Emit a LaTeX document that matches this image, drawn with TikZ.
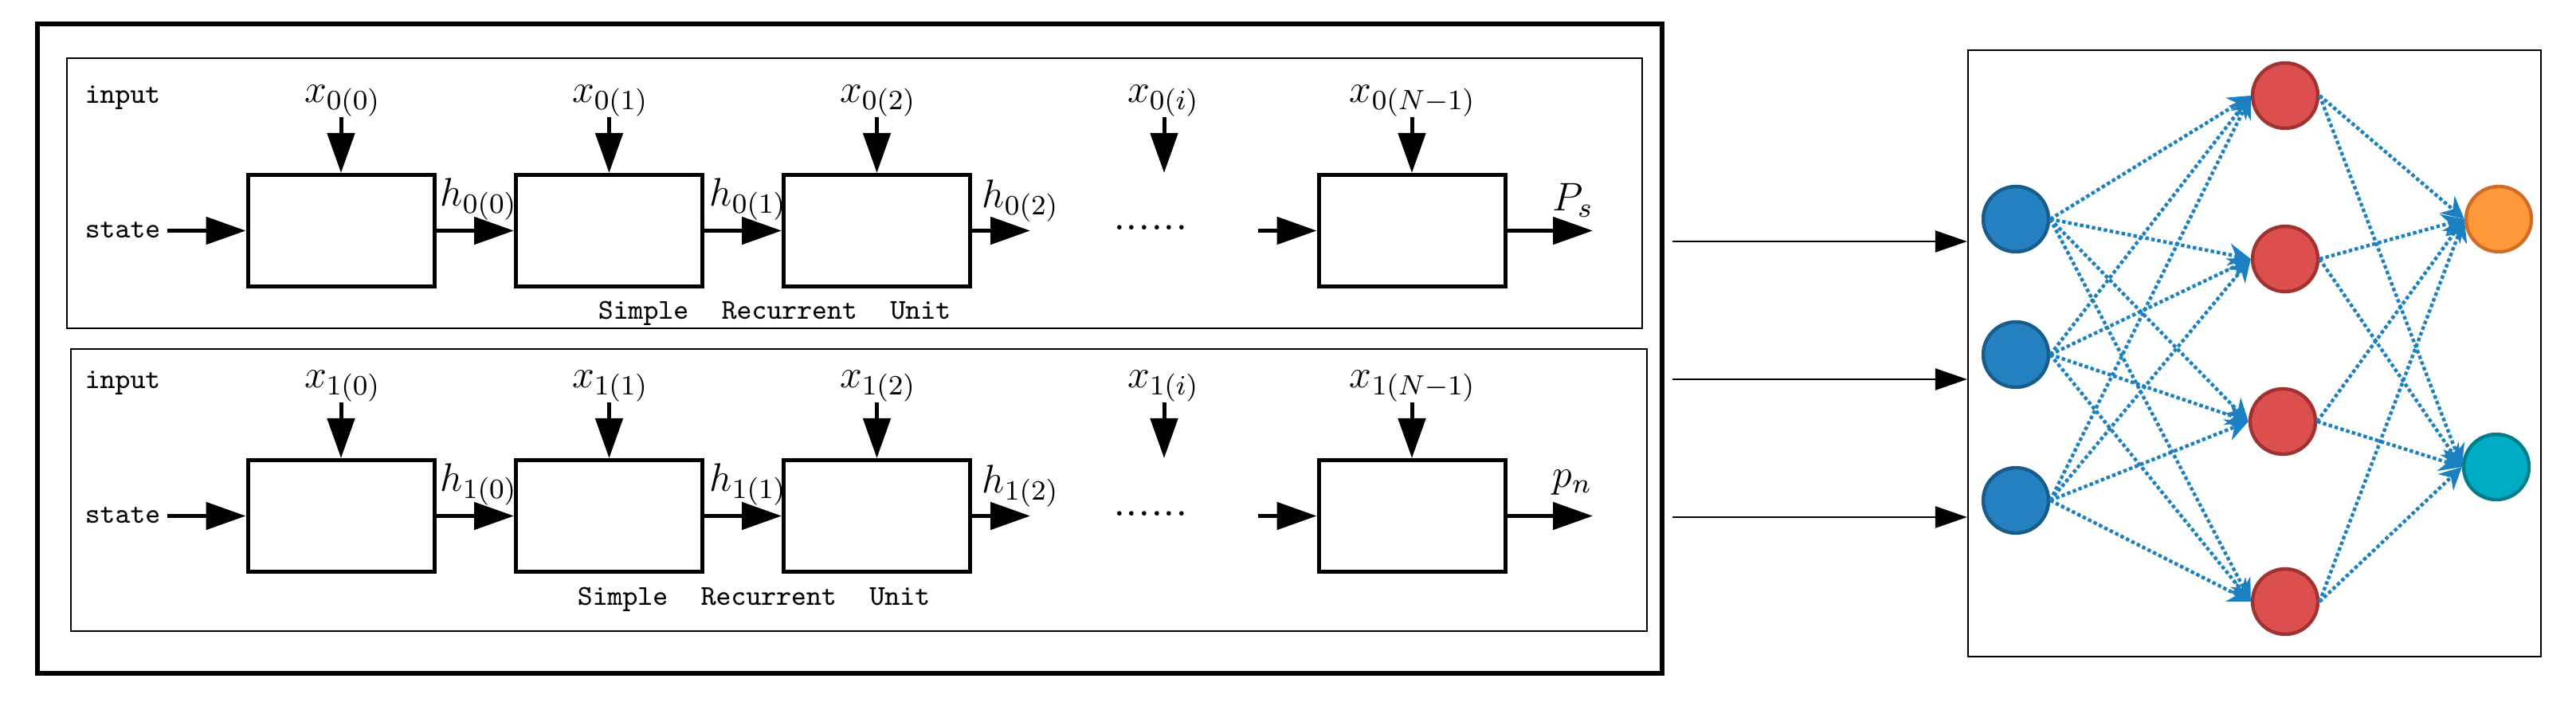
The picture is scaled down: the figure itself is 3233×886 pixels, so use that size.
\RequirePackage{fix-cm}
\documentclass[tikz,border=0pt]{standalone}
\usetikzlibrary{arrows.meta}
\definecolor{inblue}{RGB}{36,128,190}
\definecolor{inblueb}{RGB}{24,92,140}
\definecolor{hidred}{RGB}{219,80,79}
\definecolor{hidredb}{RGB}{160,50,50}
\definecolor{outor}{RGB}{255,152,58}
\definecolor{outorb}{RGB}{207,110,40}
\definecolor{outte}{RGB}{0,172,196}
\definecolor{outteb}{RGB}{0,125,140}
\definecolor{edgeblue}{RGB}{26,128,194}
\tikzset{
  blk/.style={draw, line width=1.25pt, line join=miter, minimum width=58.5pt, minimum height=35pt, inner sep=0pt},
  flow/.style={line width=1.25pt, -{Triangle[length=12.5pt,width=8.5pt]}},
  lbl/.style={inner sep=0pt, font=\fontsize{12.5}{15}\selectfont},
  ttl/.style={inner sep=0pt, font=\fontsize{9}{11}\selectfont\ttfamily},
  nnode/.style={circle, line width=1.1pt, minimum size=20.5pt, inner sep=0pt},
  nnedge/.style={draw=edgeblue, line width=1.1pt, dash pattern=on 1.1pt off 0.8pt, -{Stealth[length=7pt,width=7pt]}},
  link/.style={line width=0.4pt, -{Triangle[length=10pt,width=6.8pt]}}
}
\begin{document}
\begin{tikzpicture}[x=0.25pt,y=-0.25pt]
\useasboundingbox (0,0) rectangle (3233,886);
% outer frame and inner frames
\draw[line width=1.5pt] (47,30) rectangle (2086,845);
\draw[line width=0.6pt] (84,73) rectangle (2061,412);
\draw[line width=0.6pt] (89,438) rectangle (2067,792);
\foreach \r/\dy in {0/0,1/358}{
  \node[ttl, anchor=mid west] (inp\r) at (106,121+\dy) {input};
  \node[ttl, anchor=mid west] (state\r) at (106,290+\dy) {state};
  \node[blk] (ba\r) at (428,289.5+\dy) {};
  \node[blk] (bb\r) at (764.5,289.5+\dy) {};
  \node[blk] (bc\r) at (1100.5,289.5+\dy) {};
  \node[blk] (bd\r) at (1772,289.5+\dy) {};
  % input labels
  \node[lbl, anchor=south] (xa\r) at (430,147+\dy) {$x_{\r(0)}$};
  \node[lbl, anchor=south] (xb\r) at (766,147+\dy) {$x_{\r(1)}$};
  \node[lbl, anchor=south] (xc\r) at (1102,147+\dy) {$x_{\r(2)}$};
  \node[lbl, anchor=south] (xi\r) at (1460,147+\dy) {$x_{\r(i)}$};
  \node[lbl, anchor=south] (xn\r) at (1773,147+\dy) {$x_{\r(N-1)}$};
  \draw[flow] (ba\r.north |- xa\r.south) -- (ba\r.north);
  \draw[flow] (bb\r.north |- xb\r.south) -- (bb\r.north);
  \draw[flow] (bc\r.north |- xc\r.south) -- (bc\r.north);
  \coordinate (di\r) at (1461,217+\dy);
  \draw[flow] (di\r |- xi\r.south) -- (di\r);
  \draw[flow] (bd\r.north |- xn\r.south) -- (bd\r.north);
  % hidden state labels
  \node[lbl, anchor=south west] (ha\r) at (552,277+\dy) {$h_{\r(0)}$};
  \node[lbl, anchor=south west] (hb\r) at (890,277+\dy) {$h_{\r(1)}$};
  \node[lbl, anchor=south west] (hc\r) at (1232,279+\dy) {$h_{\r(2)}$};
  % horizontal flow
  \coordinate (st\r) at (210,289.5+\dy);
  \draw[flow] (st\r) -- (ba\r.west);
  \draw[flow] (ba\r.east) -- (bb\r.west);
  \draw[flow] (bb\r.east) -- (bc\r.west);
  \coordinate (ce\r) at (1293,289.5+\dy);
  \draw[flow] (bc\r.east) -- (ce\r);
  \coordinate (cs\r) at (1579,289.5+\dy);
  \draw[flow] (cs\r) -- (bd\r.west);
  \coordinate (pe\r) at (1999,289.5+\dy);
  \draw[flow] (bd\r.east) -- (pe\r);
  \node[anchor=base, inner sep=0pt, font=\fontsize{14.4}{16}\selectfont] (dots\r) at (1444,289+\dy) {......};
}
\node[ttl, anchor=mid] (sru0) at (972,392) {Simple\hspace{10.4pt}Recurrent\hspace{10.4pt}Unit};
\node[ttl, anchor=mid] (sru1) at (946,751) {Simple\hspace{10.4pt}Recurrent\hspace{10.4pt}Unit};
\node[lbl, anchor=south west] (ps) at (1948,273) {$P_s$};
\node[lbl, anchor=south west] (pn) at (1948,622) {$p_n$};
% network box
\node[draw, line width=0.6pt, minimum width=179.75pt, minimum height=190.25pt, inner sep=0pt] (nnbox) at (2829.5,443.5) {};
\coordinate (ka) at (2099,303);
\coordinate (kb) at (2099,476);
\coordinate (kc) at (2099,649);
\draw[link] (ka) -- (ka -| nnbox.west);
\draw[link] (kb) -- (kb -| nnbox.west);
\draw[link] (kc) -- (kc -| nnbox.west);
% neurons
\node[nnode, fill=inblue, draw=inblueb] (in1) at (2530,275) {};
\node[nnode, fill=inblue, draw=inblueb] (in2) at (2530,445) {};
\node[nnode, fill=inblue, draw=inblueb] (in3) at (2530,628) {};
\node[nnode, fill=hidred, draw=hidredb] (hid1) at (2868,120) {};
\node[nnode, fill=hidred, draw=hidredb] (hid2) at (2868,325) {};
\node[nnode, fill=hidred, draw=hidredb] (hid3) at (2865,529) {};
\node[nnode, fill=hidred, draw=hidredb] (hid4) at (2868,755) {};
\node[nnode, fill=outor, draw=outorb] (o1) at (3136,275) {};
\node[nnode, fill=outte, draw=outteb] (o2) at (3133,586) {};
\foreach \i in {1,2,3}{
  \foreach \j in {1,2,3,4}{
    \draw[nnedge] (in\i.east) -- (hid\j.west);
  }
}
\foreach \j in {1,2,3,4}{
  \foreach \k in {1,2}{
    \draw[nnedge] (hid\j.east) -- (o\k.west);
  }
}
\end{tikzpicture}
\end{document}
